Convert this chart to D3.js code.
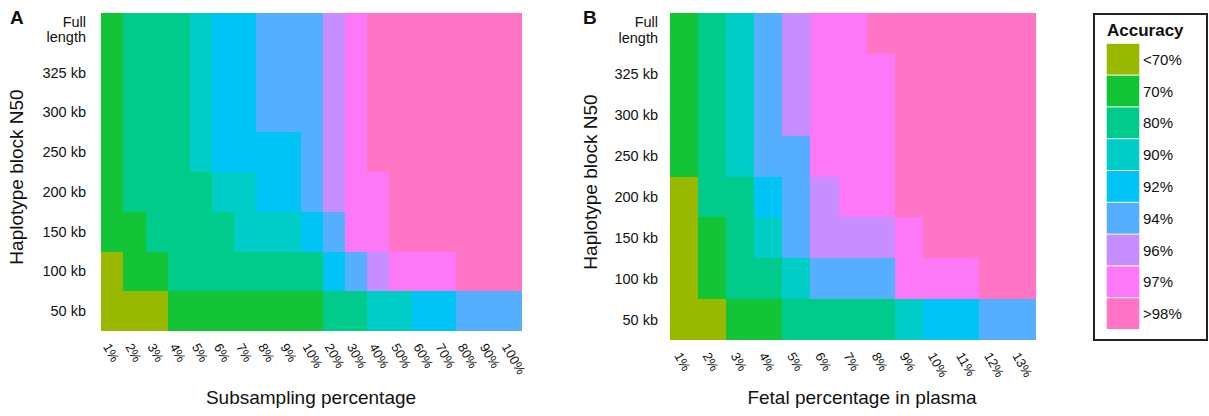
<!DOCTYPE html>
<html>
<head>
<meta charset="utf-8">
<script src="https://cdn.jsdelivr.net/npm/d3@7"></script>
<style>
  body { margin: 0; background: #fff; }
  text { font-family: "Liberation Sans", Arial, sans-serif; fill: #111; }
</style>
</head>
<body>
<svg width="1209" height="416"></svg>
<script>
var svg = d3.select('svg');

// accuracy classes, low to high
var levels = ['<70%', '70%', '80%', '90%', '92%', '94%', '96%', '97%', '>98%'];
var colors = ['#98b900', '#13c437', '#00cb8a', '#00cdc8', '#00c4f6', '#56aeff', '#c78eff', '#fc78f7', '#ff74c4'];

// rows, top to bottom
var rows = ['Full length', '325 kb', '300 kb', '250 kb', '200 kb', '150 kb', '100 kb', '50 kb'];

var subsampling = ['1%', '2%', '3%', '4%', '5%', '6%', '7%', '8%', '9%', '10%',
  '20%', '30%', '40%', '50%', '60%', '70%', '80%', '90%', '100%'];
var fetal = ['1%', '2%', '3%', '4%', '5%', '6%', '7%', '8%', '9%', '10%', '11%', '12%', '13%'];

// level index per cell, one array per row (top to bottom)
var accA = [
  [1,2,2,2,3,4,4,5,5,5,6,7,8,8,8,8,8,8,8],
  [1,2,2,2,3,4,4,5,5,5,6,7,8,8,8,8,8,8,8],
  [1,2,2,2,3,4,4,5,5,5,6,7,8,8,8,8,8,8,8],
  [1,2,2,2,3,4,4,4,4,5,6,7,8,8,8,8,8,8,8],
  [1,2,2,2,2,3,3,4,4,5,6,7,7,8,8,8,8,8,8],
  [1,1,2,2,2,2,3,3,3,4,5,7,7,8,8,8,8,8,8],
  [0,1,1,2,2,2,2,2,2,2,4,5,6,7,7,7,8,8,8],
  [0,0,0,1,1,1,1,1,1,1,2,2,3,3,4,4,5,5,5]
];
var accB = [
  [1,2,3,5,6,7,7,8,8,8,8,8,8],
  [1,2,3,5,6,7,7,7,8,8,8,8,8],
  [1,2,3,5,6,7,7,7,8,8,8,8,8],
  [1,2,3,5,5,7,7,7,8,8,8,8,8],
  [0,2,2,4,5,6,7,7,8,8,8,8,8],
  [0,1,2,3,5,6,6,6,7,8,8,8,8],
  [0,1,2,2,3,5,5,5,7,7,7,8,8],
  [0,0,1,1,2,2,2,2,3,4,4,5,5]
];

var color = d3.scaleOrdinal().domain(d3.range(levels.length)).range(colors);

function panel(opt) {
  var g = svg.append('g');
  var x = d3.scaleBand().domain(opt.cats).range([opt.x0, opt.x1]);
  var y = d3.scaleBand().domain(rows).range([opt.y0, opt.y1]);

  var cells = [];
  opt.data.forEach(function(r, i) {
    r.forEach(function(v, j) {
      cells.push({ row: rows[i], col: opt.cats[j], v: v });
    });
  });

  g.selectAll('rect.cell').data(cells).enter()
    .append('rect')
    .attr('class', 'cell')
    .attr('x', function(d) { return x(d.col) })
    .attr('y', function(d) { return y(d.row) })
    .attr('width', x.bandwidth())
    .attr('height', y.bandwidth())
    .attr('fill', function(d) { return color(d.v) })
    .attr('shape-rendering', 'crispEdges');

  // y tick labels
  var yl = g.selectAll('text.ytick').data(rows).enter()
    .append('text')
    .attr('class', 'ytick')
    .attr('text-anchor', 'end')
    .attr('font-size', 14.5)
    .attr('x', opt.ylabX)
    .attr('y', function(d) { return y(d) + y.bandwidth() / 2 });
  yl.each(function(d) {
    var t = d3.select(this);
    if (d == 'Full length') {
      t.append('tspan').attr('x', opt.ylabX).attr('dy', -6.2).text('Full');
      t.append('tspan').attr('x', opt.ylabX).attr('dy', 15.4).text('length');
    } else {
      t.attr('dy', 5).text(d);
    }
  });

  // x tick labels, rotated
  g.selectAll('text.xtick').data(opt.cats).enter()
    .append('text')
    .attr('class', 'xtick')
    .attr('font-size', 13)
    .attr('text-anchor', 'start')
    .attr('dy', '0.72em')
    .attr('transform', function(d) {
      return 'translate(' + (x(d) + x.bandwidth() / 2 - 1.5) + ',' + (opt.y1 + 11) + ') rotate(60)';
    })
    .text(function(d) { return d });

  // axis titles
  g.append('text')
    .attr('font-size', 19)
    .attr('text-anchor', 'middle')
    .attr('x', opt.xtitleX).attr('y', 404)
    .text(opt.xtitle);
  g.append('text')
    .attr('font-size', 19)
    .attr('text-anchor', 'middle')
    .attr('transform', 'translate(' + opt.ytitleX + ',' + opt.ytitleY + ') rotate(-90)')
    .text('Haplotype block N50');

  // panel letter
  g.append('text')
    .attr('font-size', 19)
    .attr('font-weight', 'bold')
    .attr('x', opt.letterX).attr('y', 23.5)
    .text(opt.letter);
}

panel({ letter: 'A', letterX: 10, cats: subsampling, data: accA,
  x0: 101.3, x1: 522.3, y0: 13, y1: 331, ylabX: 86,
  xtitle: 'Subsampling percentage', xtitleX: 311, ytitleX: 23, ytitleY: 177 });

panel({ letter: 'B', letterX: 583, cats: fetal, data: accB,
  x0: 669.5, x1: 1035.7, y0: 13, y1: 340, ylabX: 658,
  xtitle: 'Fetal percentage in plasma', xtitleX: 862, ytitleX: 597, ytitleY: 182 });

// legend
var lg = svg.append('g');
lg.append('rect')
  .attr('x', 1094).attr('y', 14).attr('width', 113).attr('height', 326)
  .attr('fill', 'none').attr('stroke', '#222').attr('stroke-width', 2);
lg.append('text')
  .attr('x', 1107).attr('y', 36)
  .attr('font-size', 17).attr('font-weight', 'bold')
  .text('Accuracy');

var ky = d3.scaleBand().domain(levels).range([43.3, 329.5]);
lg.selectAll('rect.key').data(levels).enter()
  .append('rect')
  .attr('class', 'key')
  .attr('x', 1106.7)
  .attr('y', function(d) { return ky(d) + 0.5 })
  .attr('width', 32.6)
  .attr('height', ky.bandwidth() - 1)
  .attr('fill', function(d, i) { return colors[i] });
lg.selectAll('text.key').data(levels).enter()
  .append('text')
  .attr('class', 'key')
  .attr('x', 1143)
  .attr('y', function(d) { return ky(d) + ky.bandwidth() / 2 + 5.5 })
  .attr('font-size', 15)
  .text(function(d) { return d });
</script>
</body>
</html>
